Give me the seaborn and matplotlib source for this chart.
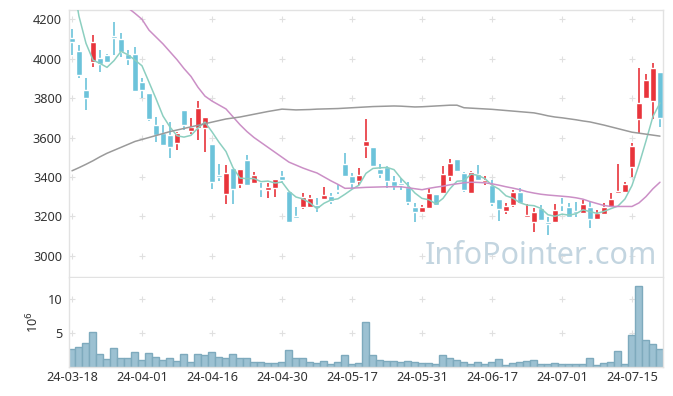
import matplotlib.pyplot as plt
import numpy as np
import pandas as pd
import seaborn as sns

# Daily OHLC (price), 85 trading days
opens = [4105, 4039, 3841, 3985, 4002, 4019, 4115, 4100, 4022, 4024,
         3882, 3827, 3663, 3621, 3612, 3570, 3739, 3635, 3646, 3646,
         3567, 3409, 3311, 3443, 3364, 3486, 3371, 3339, 3333, 3345,
         3404, 3328, 3200, 3249, 3249, 3257, 3288, 3305, 3331, 3465,
         3404, 3379, 3558, 3553, 3440, 3452, 3379, 3371, 3350, 3249,
         3223, 3244, 3313, 3320, 3406, 3491, 3418, 3320, 3413, 3376,
         3359, 3288, 3228, 3257, 3325, 3198, 3169, 3240, 3169, 3169,
         3262, 3245, 3227, 3218, 3245, 3186, 3210, 3249, 3316, 3325,
         3452, 3692, 3800, 3787, 3932]
highs = [4149, 4069, 3900, 4118, 4044, 4025, 4184, 4129, 4044, 4057,
         3900, 3827, 3702, 3663, 3680, 3629, 3739, 3697, 3785, 3702,
         3567, 3464, 3460, 3443, 3438, 3511, 3426, 3367, 3371, 3389,
         3430, 3328, 3249, 3320, 3308, 3291, 3347, 3320, 3364, 3519,
         3418, 3443, 3694, 3553, 3464, 3455, 3404, 3393, 3376, 3269,
         3257, 3342, 3313, 3455, 3489, 3491, 3426, 3430, 3460, 3406,
         3384, 3288, 3266, 3333, 3342, 3261, 3244, 3257, 3198, 3261,
         3294, 3269, 3271, 3283, 3274, 3232, 3266, 3316, 3464, 3376,
         3574, 3951, 3920, 3976, 3932]
lows = [4019, 3900, 3739, 3959, 3934, 3980, 4019, 4010, 3968, 3832,
        3802, 3684, 3575, 3560, 3494, 3536, 3638, 3618, 3587, 3528,
        3337, 3381, 3261, 3261, 3342, 3357, 3371, 3296, 3291, 3299,
        3367, 3164, 3189, 3235, 3245, 3223, 3288, 3262, 3313, 3401,
        3342, 3359, 3494, 3448, 3393, 3342, 3333, 3333, 3257, 3169,
        3215, 3244, 3254, 3313, 3381, 3426, 3325, 3318, 3380, 3359,
        3254, 3178, 3211, 3249, 3262, 3196, 3122, 3180, 3105, 3169,
        3227, 3196, 3198, 3216, 3139, 3184, 3208, 3247, 3311, 3322,
        3401, 3621, 3794, 3692, 3651]
closes = [4085, 3917, 3800, 4085, 3971, 3985, 4107, 4035, 4000, 3836,
          3841, 3695, 3613, 3562, 3553, 3621, 3663, 3655, 3748, 3702,
          3376, 3401, 3418, 3338, 3438, 3359, 3409, 3337, 3350, 3389,
          3384, 3173, 3193, 3299, 3291, 3240, 3308, 3279, 3329, 3404,
          3367, 3409, 3582, 3455, 3415, 3381, 3354, 3360, 3274, 3223,
          3245, 3316, 3257, 3415, 3469, 3431, 3333, 3423, 3384, 3384,
          3266, 3235, 3252, 3321, 3269, 3206, 3223, 3181, 3159, 3232,
          3258, 3198, 3218, 3261, 3184, 3215, 3245, 3288, 3328, 3362,
          3557, 3773, 3892, 3951, 3700]

# Volume in millions of shares
volume = [2.65, 2.95, 3.5, 5.15, 1.9, 1.2, 2.8, 1.3, 1.3, 2.2,
          1.0, 2.05, 1.5, 1.0, 1.3, 0.9, 1.9, 0.75, 1.9, 1.75,
          2.2, 1.5, 1.3, 1.9, 1.3, 1.3, 0.75, 0.75, 0.6, 0.6,
          0.75, 2.5, 1.3, 1.3, 0.75, 0.6, 0.9, 0.45, 0.75, 1.75,
          0.45, 0.6, 6.6, 1.75, 1.0, 0.9, 0.9, 0.75, 0.9, 0.75,
          0.6, 0.6, 0.45, 1.75, 1.3, 1.0, 0.75, 0.45, 0.75, 0.45,
          0.75, 1.2, 0.3, 0.6, 0.75, 0.9, 1.0, 0.45, 0.45, 0.6,
          0.45, 0.45, 0.45, 0.45, 1.3, 0.3, 0.6, 0.75, 2.35, 0.45,
          4.7, 11.9, 4.0, 3.4, 2.65]

# Moving averages as drawn on the chart
ma_short = [4420, 4215, 4078, 3993, 3976, 3956, 3990, 4037, 4020, 3993,
            3964, 3881, 3797, 3709, 3653, 3609, 3602, 3611, 3648, 3678,
            3629, 3576, 3529, 3447, 3394, 3391, 3392, 3376, 3379, 3369,
            3374, 3327, 3298, 3288, 3268, 3239, 3266, 3283, 3289, 3312,
            3337, 3358, 3418, 3443, 3446, 3448, 3437, 3393, 3357, 3318,
            3291, 3284, 3263, 3291, 3340, 3378, 3381, 3414, 3408, 3391,
            3358, 3338, 3304, 3292, 3269, 3257, 3254, 3240, 3208, 3200,
            3211, 3206, 3213, 3233, 3224, 3215, 3225, 3239, 3252, 3288,
            3356, 3462, 3582, 3707, 3775]
ma_mid = [4420, 4400, 4380, 4360, 4340, 4320, 4300, 4280, 4258, 4230,
          4200, 4145, 4110, 4075, 4035, 3995, 3950, 3910, 3855, 3810,
          3785, 3765, 3745, 3705, 3665, 3630, 3600, 3575, 3550, 3525,
          3500, 3475, 3460, 3445, 3432, 3420, 3400, 3380, 3362, 3342,
          3343, 3345, 3347, 3348, 3349, 3350, 3350, 3350, 3345, 3340,
          3335, 3342, 3348, 3353, 3360, 3365, 3370, 3373, 3372, 3370,
          3365, 3358, 3350, 3343, 3335, 3325, 3318, 3312, 3308, 3305,
          3302, 3299, 3294, 3287, 3275, 3265, 3255, 3250, 3250, 3250,
          3250, 3268, 3300, 3340, 3373]
ma_long = [3431, 3447, 3464, 3482, 3502, 3520, 3535, 3550, 3565, 3580,
           3590, 3600, 3610, 3620, 3630, 3638, 3646, 3654, 3662, 3670,
           3678, 3686, 3694, 3699, 3704, 3711, 3718, 3725, 3732, 3738,
           3744, 3742, 3740, 3741, 3742, 3744, 3745, 3746, 3747, 3749,
           3751, 3753, 3755, 3757, 3758, 3759, 3760, 3759, 3757, 3755,
           3756, 3758, 3760, 3762, 3764, 3764, 3751, 3749, 3747, 3745,
           3743, 3740, 3737, 3734, 3731, 3728, 3725, 3718, 3710, 3704,
           3700, 3695, 3690, 3684, 3679, 3671, 3663, 3654, 3645, 3636,
           3627, 3622, 3617, 3612, 3607]

tick_labels = ["24-03-18", "24-04-01", "24-04-16", "24-04-30", "24-05-17",
               "24-05-31", "24-06-17", "24-07-01", "24-07-15"]
price_ticks = [3000, 3200, 3400, 3600, 3800, 4000, 4200]
volume_ticks = [5, 10]

sns.set_style("white")
plt.rcParams["font.family"] = ["Noto Sans", "DejaVu Sans"]

UP, DOWN = "#e8343b", "#6cc3da"
SPINE = "#e2e2e2"
TEXT = "#333333"

df = pd.DataFrame(
    {"Open": opens, "High": highs, "Low": lows, "Close": closes,
     "Volume": volume, "MA5": ma_short, "MA20": ma_mid, "MA60": ma_long}
)
df["Day"] = np.arange(len(df))
df["Rising"] = df["Close"] > df["Open"]

fig = plt.figure(figsize=(6.73, 3.96), dpi=100)
ax = fig.add_axes([0.1025, 0.3005, 0.8826, 0.6742])
ax_vol = fig.add_axes([0.1025, 0.0732, 0.8826, 0.2248])

# grid crosses
for axis, yticks in ((ax, price_ticks), (ax_vol, volume_ticks)):
    gx, gy = np.meshgrid(df["Day"][::10], yticks)
    axis.plot(gx.ravel(), gy.ravel(), "+", color="#e0e0e0", ms=4.5, mew=0.8, zorder=0)

# candles
for rising, part in df.groupby("Rising"):
    color = UP if rising else DOWN
    bottom = part[["Open", "Close"]].min(axis=1)
    body = (part["Close"] - part["Open"]).abs().clip(lower=6)
    ax.vlines(part["Day"], part["Low"], part["High"], color=color, lw=1.2, zorder=2)
    ax.bar(part["Day"], body, bottom=bottom, width=0.76, color=color, zorder=2)

for col, color in (("MA5", "#8ccfc0"), ("MA20", "#cb8fc6"), ("MA60", "#9a9a9a")):
    sns.lineplot(data=df, x="Day", y=col, color=color, lw=1.1, ax=ax, zorder=3)

ax.text(0.99, 0.08, "InfoPointer.com", transform=ax.transAxes, ha="right",
        va="center", fontsize=22, color="#c3d5e0", zorder=1)

sns.barplot(data=df, x="Day", y="Volume", native_scale=True, width=1,
            color="#9cc1d2", edgecolor="#7eaabd", linewidth=1, saturation=1,
            ax=ax_vol)

for axis in (ax, ax_vol):
    axis.set_xlim(-0.43, 84.43)
    axis.set(xlabel="", ylabel="")
    axis.tick_params(length=0, colors=TEXT, labelsize=9.2)
    for spine in axis.spines.values():
        spine.set_color(SPINE)
        spine.set_linewidth(1)

ax.set_ylim(2892, 4247)
ax.set_yticks(price_ticks)
ax.set_xticks([])
ax.tick_params(axis="y", pad=5)

ax_vol.set_ylim(0, 13.1)
ax_vol.set_yticks(volume_ticks)
ax_vol.spines["top"].set_visible(False)
ax_vol.set_xticks(df["Day"][::10], tick_labels)
ax_vol.tick_params(axis="x", pad=3)
ax_vol.tick_params(axis="y", pad=5)
ax_vol.set_ylabel("10$^6$", color=TEXT, fontsize=9.2)
ax_vol.yaxis.set_label_coords(-0.047, 0.5)

fig.savefig("out.png", dpi=100)
